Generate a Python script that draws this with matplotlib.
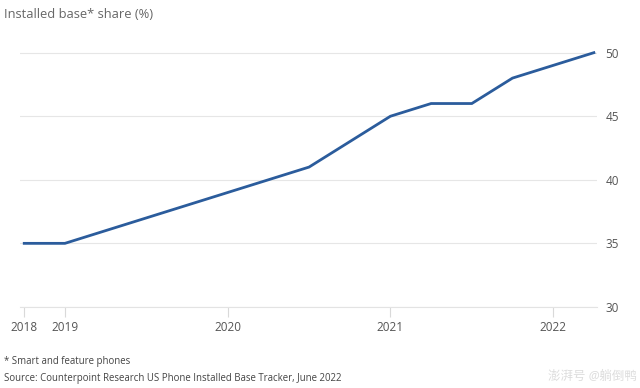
import matplotlib.pyplot as plt

plt.rcParams['font.family'] = ['Open Sans', 'Noto Sans CJK SC', 'DejaVu Sans']

# quarter positions in years
years = [2018.75, 2019.0, 2020.5, 2021.0, 2021.25, 2021.5, 2021.75, 2022.25]
share = [35, 35, 41, 45, 46, 46, 48, 50]

tick_pos = [2018.75, 2019, 2020, 2021, 2022]
tick_lab = ['2018', '2019', '2020', '2021', '2022']
yticks = [30, 35, 40, 45, 50]

fig = plt.figure(figsize=(6.4, 3.88), dpi=100)
ax = fig.add_axes([0.031, 0.209, 0.902, 0.688])

ax.plot(years, share, color='#2b5c9c', linewidth=2.0, solid_joinstyle='miter', zorder=3)

ax.set_xlim(2018.723, 2022.27)
ax.set_ylim(30, 51)

ax.set_yticks(yticks)
ax.yaxis.tick_right()
ax.tick_params(axis='y', length=0, pad=6, labelsize=8.5, labelcolor='#555555')
ax.grid(axis='y', color='#e6e6e6', linewidth=0.8)

ax.set_xticks(tick_pos)
ax.set_xticklabels(tick_lab)
ax.tick_params(axis='x', length=7, color='#d9d9d9', width=0.8, pad=3,
               labelsize=8.5, labelcolor='#555555')

for s in ['top', 'left', 'right']:
    ax.spines[s].set_visible(False)
ax.spines['bottom'].set_color('#e3e3e3')
ax.spines['bottom'].set_linewidth(0.8)

fig.text(0.006, 0.962, 'Installed base* share (%)', fontsize=9.3, color='#666666', va='center')
fig.text(0.006, 0.068, '* Smart and feature phones', fontsize=6.9, color='#444444', va='center')
fig.text(0.006, 0.025, 'Source: Counterpoint Research US Phone Installed Base Tracker, June 2022',
         fontsize=6.9, color='#444444', va='center')
fig.text(0.995, 0.03, '澎湃号 @躺倒鸭', fontsize=9, color='#dddddd', ha='right', va='center',
         style='italic')

fig.savefig('out.png', dpi=100)
